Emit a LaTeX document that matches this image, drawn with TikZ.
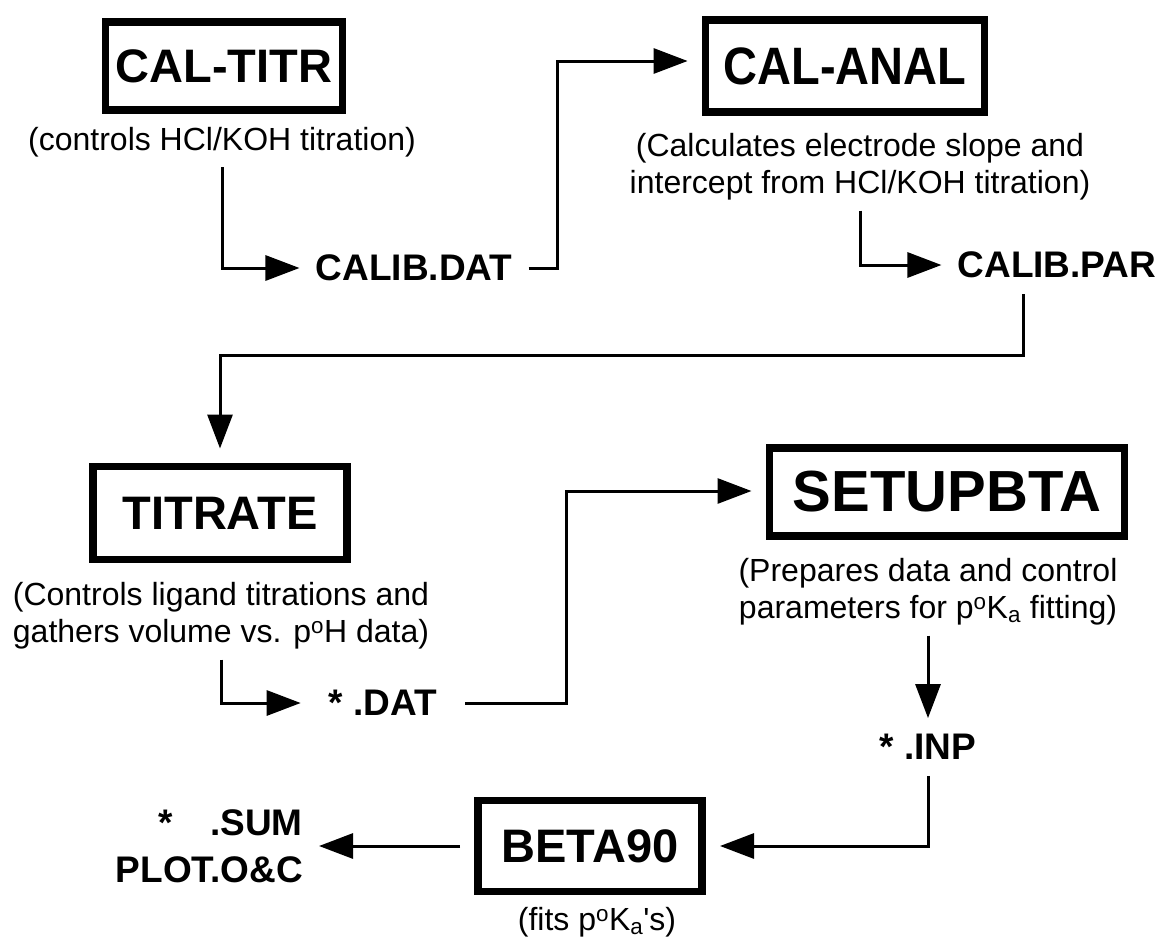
\documentclass[tikz,border=0pt]{standalone}
\usepackage{fontspec}
\setmainfont{Liberation Sans}
\usetikzlibrary{arrows.meta}
\tikzset{
	prog/.style={draw,line width=7.5pt,inner xsep=18pt,inner ysep=0pt,outer sep=18pt,
		font=\fontsize{47}{56}\selectfont\bfseries},
	note/.style={align=center,inner sep=10pt,font=\fontsize{32}{37}\selectfont},
	file/.style={inner sep=16pt,font=\fontsize{37}{47}\selectfont\bfseries},
	flow/.style={line width=3pt,-{Triangle[length=34pt,width=25pt]}},
}

\begin{document}
\begin{tikzpicture}[x=1pt,y=-1pt]
	\useasboundingbox (0,0) rectangle (1164,943);
	%calibration
	\node[prog,inner xsep=10pt,minimum height=88] (caltitr) at (224,66) {CAL-TITR};
	\node[note] (caltitrnote) at (222,142) {(controls HCl/KOH titration)};
	\node[file] (calibdat) at (414,268) {CALIB.DAT};
	\node[prog,minimum width=277,minimum height=92] (calanal) at (845,66) {\scalebox{1}[1.12]{CAL-ANAL}};
	\node[note] (calanalnote) at (860,167) {(Calculates electrode slope and\\
			intercept from HCl/KOH titration)};
	\node[file] (calibpar) at (1057,265) {CALIB.PAR};
	%ligand titration
	\node[prog,minimum width=254,minimum height=93] (titrate) at (220,513) {TITRATE};
	\node[note] (titratenote) at (221,616) {(Controls ligand titrations and\\
			gathers volume vs. p\textsuperscript{o}H data)};
	\node[file,inner xsep=28pt] (dat) at (383,703) {* .DAT};
	\node[prog,minimum width=355,minimum height=88,font=\fontsize{58}{64}\selectfont\bfseries] (setupbta) at (947,492) {SETUPBTA};
	\node[note] (setupbtanote) at (928,592) {(Prepares data and control\\
			parameters for p\textsuperscript{o}K\textsubscript{a} fitting)};
	\node[file] (inp) at (928,747) {* .INP};
	%fitting
	\node[prog,minimum width=224,minimum height=91] (beta90) at (590,846) {BETA90};
	\node[note] (beta90note) at (597,922) {(fits p\textsuperscript{o}K\textsubscript{a}\textquotesingle s)};
	\node[file,align=right,anchor=east] (sum) at (319,846) {*\quad .SUM\\PLOT.O\&C};
	%corners
	\coordinate (k1) at (557,61);
	\coordinate (k2) at (1023,355);
	\coordinate (k3) at (566,491);
	\draw[flow] (caltitrnote) |- (calibdat);
	\draw[flow] (calibdat) -| (k1) -- (k1 -| calanal.west);
	\draw[flow] (calanalnote) |- (calibpar);
	\draw[flow] (calibpar.south -| k2) -- (k2) -| (titrate);
	\draw[flow] (titratenote) |- (dat);
	\draw[flow] (dat) -| (k3) -- (k3 -| setupbta.west);
	\draw[flow] (setupbtanote) -- (inp);
	\draw[flow] (inp) |- (beta90);
	\draw[flow] (beta90) -- (sum);
\end{tikzpicture}
\end{document}
